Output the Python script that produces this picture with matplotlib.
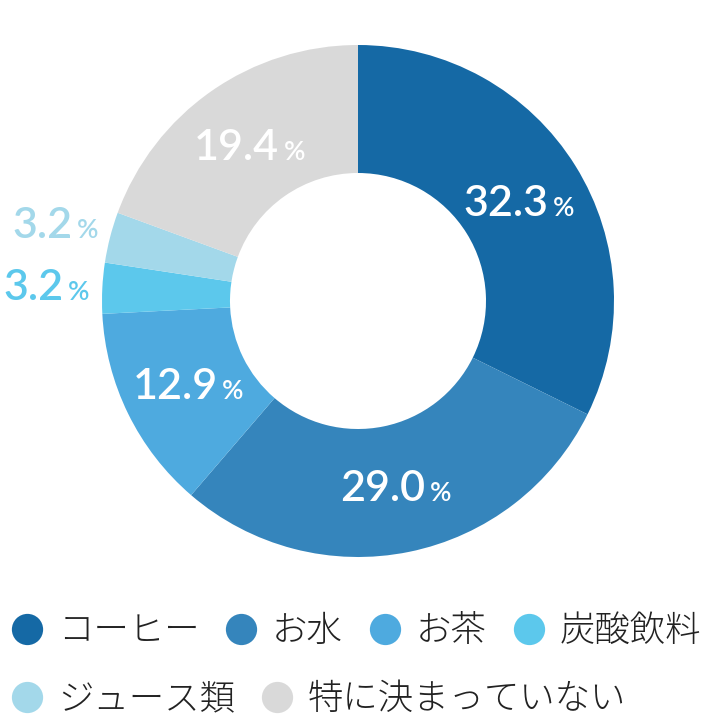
import numpy as np
import matplotlib.pyplot as plt
from matplotlib.lines import Line2D
from matplotlib.offsetbox import TextArea, HPacker, AnnotationBbox

# data
categories = ['コーヒー', 'お水', 'お茶', '炭酸飲料', 'ジュース類', '特に決まっていない']
shares = [32.3, 29.0, 12.9, 3.2, 3.2, 19.4]
colors = ['#1569a5', '#3585bc', '#4eaadf', '#5cc8ec', '#a3d8ea', '#d9d9d9']

plt.rcParams['font.family'] = ['Noto Sans CJK JP', 'DejaVu Sans']

fig = plt.figure(figsize=(7.04, 7.28), dpi=100)
ax = fig.add_axes([102 / 704, 1 - 557 / 728, 512 / 704, 512 / 728])

wedges, _ = ax.pie(shares, colors=colors, startangle=90, counterclock=False,
                   radius=1, wedgeprops=dict(width=0.5, linewidth=0))
ax.set_xlim(-1, 1)
ax.set_ylim(-1, 1)
ax.set_aspect('equal')
ax.axis('off')

# percentage labels: big number + small %
for w, val, col in zip(wedges, shares, colors):
    mid = np.deg2rad((w.theta1 + w.theta2) / 2)
    if val < 5:
        dist, tc = 1.22, col
    else:
        dist, tc = 0.74, 'white'
    num = TextArea(f'{val:.1f}', textprops=dict(color=tc, fontsize=31, family='Lato', weight='semibold'))
    pct = TextArea('%', textprops=dict(color=tc, fontsize=19, family='Lato', weight='semibold'))
    box = HPacker(children=[num, pct], align='baseline', pad=0, sep=3)
    ab = AnnotationBbox(box, (dist * np.cos(mid), dist * np.sin(mid) - 0.01), frameon=False,
                        box_alignment=(0.5, 0.5), annotation_clip=False)
    ax.add_artist(ab)

# legend, wrapped in two rows
handles = [Line2D([], [], marker='o', linestyle='', markersize=22.5,
                  markerfacecolor=c, markeredgewidth=0) for c in colors]
leg_kw = dict(frameon=False, handlelength=0.9, handletextpad=0.42,
              columnspacing=0.74, borderpad=0, borderaxespad=0, labelcolor='#222222',
              prop=dict(family='Noto Sans CJK JP', size=25.5, weight='light'))
leg1 = fig.legend(handles[:4], categories[:4], ncol=4, loc='center left',
                  bbox_to_anchor=(11 / 704, 1 - 631 / 728), **leg_kw)
leg2 = fig.legend(handles[4:], categories[4:], ncol=2, loc='center left',
                  bbox_to_anchor=(11 / 704, 1 - 699 / 728), **leg_kw)

fig.savefig('out.png', dpi=100)
